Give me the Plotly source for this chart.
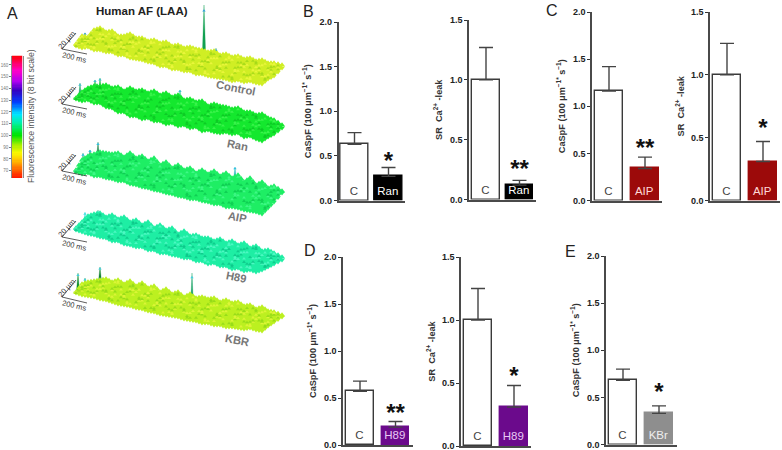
import plotly.graph_objects as go

W, H = 782, 450

# ---------- bar data ----------
panel_names = ["B1", "B2", "C1", "C2", "D1", "D2", "E"]
treatments = ["Ran", "Ran", "AIP", "AIP", "H89", "H89", "KBr"]
control_means = [0.63, 1.00, 1.16, 1.00, 0.57, 1.00, 0.68]
control_tops = [0.76, 1.27, 1.42, 1.25, 0.68, 1.25, 0.80]
treated_means = [0.27, 0.12, 0.34, 0.31, 0.19, 0.31, 0.33]
treated_tops = [0.37, 0.16, 0.46, 0.47, 0.25, 0.48, 0.41]
stars = ["*", "**", "**", "*", "**", "*", "*"]
star_values = [0.42, 0.24, 0.54, 0.56, 0.32, 0.54, 0.54]
y_tops = [2.0, 1.5, 2.0, 1.5, 2.0, 1.5, 2.0]
y_ticks_2 = [0.0, 0.5, 1.0, 1.5, 2.0]
y_ticks_15 = [0.0, 0.5, 1.0, 1.5]
titles = ["CaSpF (100 µm<sup>−1*</sup> s<sup>−1</sup>)", "SR  Ca<sup>2+</sup> -leak"]

# ---------- styles ----------
bar_fill = ["#000000", "#000000", "#9c0a0a", "#9c0a0a", "#6b0a8c", "#6b0a8c", "#8e8e8e"]
bar_text = ["#ffffff", "#ffffff", "#ffd8d8", "#ffd8d8", "#e8c8f5", "#e8c8f5", "#eeeeee"]

# layout in page pixels: axis x, right end, top, bottom, centre of bar 1, centre of bar 2
geometry = [
    (338.5, 405, 22, 200.5, 354.5, 388.5),
    (469.0, 536, 20, 199.5, 486.0, 519.5),
    (592.0, 662, 12, 200.5, 609.0, 645.0),
    (710.0, 780, 12, 200.5, 727.0, 763.0),
    (343.0, 413, 257, 445.0, 360.0, 395.5),
    (461.0, 531, 257, 446.0, 478.0, 514.0),
    (606.0, 677, 256, 444.5, 623.0, 659.0),
]
bar_px = 27.5
title_standoff = [6, 6, 6, 5, 6, 5, 6]

# ---------- surface ribbon outlines ----------
ridge_x = [76, 82, 88, 94, 100, 106, 112, 118, 124, 130, 136, 142, 148, 154, 160, 166, 172, 178,
           184, 190, 196, 202, 208, 214, 220, 226, 232, 238, 244, 250, 256, 262, 268, 274, 282]
control_top = [44, 36, 37, 30, 28, 32, 31, 36, 36, 34, 38, 38, 41, 40, 43, 42, 46, 45,
               48, 47, 49, 50, 52, 51, 55, 54, 57, 56, 59, 58, 61, 60, 63, 63, 65]
control_bottom = [46, 48, 47, 50, 50, 52, 52, 55, 55, 58, 59, 60, 62, 63, 66, 66, 69, 69,
                  71, 71, 74, 74, 76, 77, 78, 79, 81, 80, 82, 81, 83, 84, 79, 76, 68]
ran_top = [98, 92, 88, 86, 86, 85, 88, 87, 91, 88, 91, 90, 93, 91, 95, 93, 97, 95,
           100, 99, 102, 101, 106, 104, 106, 107, 109, 108, 112, 112, 115, 114, 118, 120, 125]
ran_bottom = [99, 101, 100, 103, 103, 107, 108, 112, 112, 116, 116, 119, 118, 121, 121, 124, 123, 126,
              125, 128, 127, 131, 130, 132, 133, 132, 134, 133, 137, 136, 139, 141, 137, 134, 128]
aip_top = [170, 160, 156, 154, 152, 153, 154, 153, 157, 153, 158, 156, 161, 158, 165, 162, 168, 165,
           170, 168, 173, 170, 174, 171, 176, 173, 178, 175, 182, 178, 185, 182, 188, 186, 191]
aip_bottom = [172, 174, 173, 176, 176, 178, 179, 181, 181, 184, 185, 187, 188, 190, 191, 193, 194, 196,
              197, 199, 199, 201, 202, 204, 204, 207, 207, 208, 210, 211, 212, 214, 208, 202, 193]
h89_top = [228, 222, 216, 214, 213, 217, 215, 219, 217, 222, 220, 225, 222, 228, 225, 230, 228, 234,
           231, 236, 235, 238, 238, 241, 239, 243, 241, 245, 243, 248, 246, 251, 250, 253, 257]
h89_bottom = [230, 232, 234, 235, 237, 238, 241, 241, 244, 245, 247, 247, 250, 250, 253, 253, 255, 256,
              258, 258, 261, 261, 264, 263, 266, 266, 269, 268, 271, 270, 272, 270, 267, 264, 260]
kbr_top = [292, 284, 282, 281, 280, 279, 282, 280, 284, 281, 286, 283, 288, 286, 292, 289, 294, 292,
           297, 294, 298, 297, 299, 298, 302, 300, 303, 302, 306, 305, 309, 307, 311, 312, 315]
kbr_bottom = [293, 295, 296, 297, 299, 300, 302, 304, 305, 306, 308, 309, 311, 312, 314, 315, 316, 317,
              319, 320, 321, 323, 323, 325, 325, 327, 327, 328, 329, 328, 330, 331, 326, 322, 317]
ribbon_names = ["Control", "Ran", "AIP", "H89", "KBR"]
ribbon_tops = [control_top, ran_top, aip_top, h89_top, kbr_top]
ribbon_bottoms = [control_bottom, ran_bottom, aip_bottom, h89_bottom, kbr_bottom]
ribbon_fill = ["#d0ee24", "#14e82e", "#1eee64", "#1eeea4", "#bcf020"]
ribbon_dark = ["#a0d818", "#0cc424", "#0cc850", "#0cc488", "#90d818"]
ribbon_light = ["#eef840", "#40f650", "#44fa8c", "#54fac8", "#e2f63c"]
# where along the ribbon depth each surface peak falls, cycled over the samples
grain_depth = [0.12, 0.62, 0.34, 0.86, 0.48, 0.22, 0.74, 0.06, 0.56, 0.92, 0.28, 0.68, 0.42]

# spikes per ribbon: x, base y, tip y, colour
spike_x = [[85, 143, 204, 216], [80, 95, 100, 180, 216], [83, 90, 98, 235], [85, 98, 127, 186, 233], [78, 85, 100, 192]]
spike_base = [[42, 53, 52, 68], [100, 90, 92, 100, 117], [170, 160, 160, 180], [228, 228, 234, 240, 258], [292, 293, 282, 310]]
spike_tip = [[33, 40, 5, 48], [83, 80, 78, 90, 106], [153, 150, 142, 167], [212, 210, 222, 232, 245], [273, 278, 267, 273]]
spike_color = [["#30a030", "#30a030", "#10a050", "#20a040"],
               ["#10a060", "#10c040", "#10b040", "#30d090", "#30d0a0"],
               ["#10a860", "#109050", "#108040", "#30c0c0"],
               ["#30d8d8", "#10a860", "#30d8e0", "#30d8e0", "#30d8e0"],
               ["#109030", "#109030", "#108030", "#10a060"]]
spike_tipcolor = ["#30a0e0", "#40c0d0", "#30c0e0", "#40e0e0", "#40d0e0"]

# scale bars: vertex, top of the 20 µm bar, end of the 200 ms bar
scale_vertex_y = [49, 104, 171, 237, 297]
scale_top_y = [33, 87, 155, 221, 280]
scale_end_y = [54, 109, 176, 242, 303]
ribbon_label_xy = [(236, 88), (237, 145), (237, 217), (236, 277), (237, 340)]
ribbon_label_angle = [11, 11, 11, 11, 11]

# colour bar
cbar_values = list(range(64, 169, 1))
cbar_ticks = [70, 80, 90, 100, 110, 120, 130, 140, 150, 160]
cbar_stops = [(64, "#ff1a00"), (72, "#ff7400"), (80, "#ffcf00"), (85, "#f8f800"), (92, "#a0ee00"),
              (100, "#00e400"), (110, "#00f0a0"), (118, "#00e5ff"), (128, "#0040ff"), (138, "#3400c0"),
              (146, "#b000f0"), (155, "#ff00c8"), (162, "#ff0060"), (168, "#ff0000")]
page_letters = [("A", 12, 13), ("B", 308, 11), ("C", 552, 10), ("D", 310, 250), ("E", 570, 251)]

FONT = "Liberation Sans"
fig = go.Figure()
layout = dict(
    width=W, height=H, margin=dict(l=0, r=0, t=0, b=0, autoexpand=False), autosize=False,
    paper_bgcolor="white", plot_bgcolor="rgba(0,0,0,0)", showlegend=False,
    font=dict(family=FONT), bargap=0,
)

# page-wide pixel axes for panel A
layout["xaxis8"] = dict(domain=[0, 1], range=[0, W], visible=False, fixedrange=True, anchor="y8")
layout["yaxis8"] = dict(domain=[0, 1], range=[H, 0], visible=False, fixedrange=True, anchor="x8")


def add8(**kw):
    fig.add_trace(go.Scatter(xaxis="x8", yaxis="y8", hoverinfo="skip", **kw))


annotations = []
for i, name in enumerate(ribbon_names):
    top, bottom = ribbon_tops[i], ribbon_bottoms[i]
    for sx, sb, st, sc in zip(spike_x[i], spike_base[i], spike_tip[i], spike_color[i]):
        add8(x=[sx - 1.6, sx, sx + 1.6], y=[sb, st, sb], mode="lines", fill="toself", fillcolor=sc,
             line=dict(color=sc, width=0.3))
        add8(x=[sx], y=[st + (sb - st) * 0.12], mode="markers",
             marker=dict(symbol="triangle-up", size=3, color=spike_tipcolor[i], line=dict(width=0)))
    add8(x=ridge_x + ridge_x[::-1], y=top + bottom[::-1], mode="lines", fill="toself",
         fillcolor=ribbon_fill[i], line=dict(color=ribbon_fill[i], width=0.6), name=name)
    mid_x = [(ridge_x[k] + ridge_x[k + 1]) / 2 for k in range(len(ridge_x) - 1)]
    mid_top = [(top[k] + top[k + 1]) / 2 for k in range(len(ridge_x) - 1)]
    mid_bot = [(bottom[k] + bottom[k + 1]) / 2 for k in range(len(ridge_x) - 1)]
    add8(x=ridge_x + mid_x, y=top + mid_top, mode="markers",
         marker=dict(symbol="triangle-up", size=5.5, color=ribbon_fill[i], line=dict(width=0)))
    add8(x=ridge_x + mid_x, y=bottom + mid_bot, mode="markers",
         marker=dict(symbol="triangle-down", size=5, color=ribbon_fill[i], line=dict(width=0)))
    all_x = ridge_x[:-1] + mid_x
    all_t = top[:-1] + mid_top
    all_b = bottom[:-1] + mid_bot
    for offset, colour, op in [(0, ribbon_light[i], 0.85), (3, ribbon_dark[i], 0.8),
                               (6, ribbon_light[i], 0.85), (9, ribbon_dark[i], 0.8)]:
        depth = [grain_depth[(k + offset) % len(grain_depth)] for k in range(len(all_x))]
        add8(x=all_x, y=[t + d * (b - t) for t, b, d in zip(all_t, all_b, depth)], mode="markers", opacity=op,
             marker=dict(symbol="triangle-up", size=3.4, color=colour, line=dict(width=0)))
    # scale bars
    add8(x=[76, 62, 87], y=[scale_top_y[i], scale_vertex_y[i], scale_end_y[i]], mode="lines",
         line=dict(color="#333333", width=0.8))
    annotations.append(dict(text="20 µm", x=66, y=scale_vertex_y[i] - 9, xref="x8", yref="y8", showarrow=False,
                            textangle=-48, font=dict(size=7.5, color="#333333", family=FONT)))
    annotations.append(dict(text="200 ms", x=74, y=scale_vertex_y[i] + 8, xref="x8", yref="y8", showarrow=False,
                            textangle=13, font=dict(size=7.5, color="#333333", family=FONT)))
    annotations.append(dict(text=f"<b>{name}</b>", x=ribbon_label_xy[i][0], y=ribbon_label_xy[i][1],
                            xref="x8", yref="y8", showarrow=False, textangle=ribbon_label_angle[i],
                            font=dict(size=11.2, color="#777777", family=FONT)))

for txt, x, y in page_letters:
    annotations.append(dict(text=txt, x=x, y=y, xref="x8", yref="y8", showarrow=False,
                            font=dict(size=16, color="#222222", family=FONT)))
annotations.append(dict(text="<b>Human AF (LAA)</b>", x=142, y=11, xref="x8", yref="y8", showarrow=False,
                        font=dict(size=11.5, color="#222222", family=FONT)))
annotations.append(dict(text="Fluorescence intensity (8 bit scale)", x=31, y=116, xref="x8", yref="y8",
                        showarrow=False, textangle=-90, font=dict(size=8.7, color="#555555", family=FONT)))

# colour bar
span = cbar_stops[-1][0] - cbar_stops[0][0]
fig.add_trace(go.Heatmap(z=[[v] for v in cbar_values], y=cbar_values, x=[0], showscale=False,
                         colorscale=[[(v - cbar_stops[0][0]) / span, c] for v, c in cbar_stops],
                         zmin=cbar_stops[0][0], zmax=cbar_stops[-1][0], xaxis="x9", yaxis="y9", hoverinfo="skip"))
layout["xaxis9"] = dict(domain=[11.5 / W, 22.5 / W], visible=False, fixedrange=True, anchor="y9")
layout["yaxis9"] = dict(domain=[1 - 178 / H, 1 - 55.7 / H], range=[63.8, 167.9], anchor="x9", fixedrange=True,
                        tickvals=cbar_ticks, ticks="outside", ticklen=1.5, tickwidth=0.5, tickcolor="#777777",
                        tickfont=dict(size=4.5, color="#777777", family=FONT), showgrid=False, zeroline=False,
                        showline=True, linecolor="#888888", linewidth=0.5, mirror=True)

# bar panels
for i, name in enumerate(panel_names):
    ax, end, top, bot, c1, c2 = geometry[i]
    n = i + 1
    xa, ya = ("x" if n == 1 else f"x{n}"), ("y" if n == 1 else f"y{n}")
    pitch = c2 - c1
    x_pos = [0, 1]
    fig.add_trace(go.Bar(
        x=x_pos, y=[control_means[i], treated_means[i]], width=bar_px / pitch,
        marker=dict(color=["#ffffff", bar_fill[i]], line=dict(color=["#3a3a3a", bar_fill[i]], width=1.4)),
        error_y=dict(type="data", symmetric=False,
                     array=[control_tops[i] - control_means[i], treated_tops[i] - treated_means[i]],
                     arrayminus=[0, 0], color="#444444", thickness=1.4, width=7),
        text=["C", treatments[i]], textposition="inside", insidetextanchor="start", textangle=0,
        constraintext="none", insidetextfont=dict(size=11.5, color=["#444444", bar_text[i]], family=FONT),
        xaxis=xa, yaxis=ya, name=name, hoverinfo="skip"))
    fig.add_trace(go.Scatter(x=[1], y=[star_values[i]], mode="text", text=[stars[i]],
                             textposition="middle center",
                             textfont=dict(size=24, color="#111111", family=FONT, weight=700),
                             xaxis=xa, yaxis=ya, hoverinfo="skip", cliponaxis=False))
    layout[f"xaxis{n if n > 1 else ''}"] = dict(
        domain=[ax / W, end / W], range=[(ax - c1) / pitch, (end - c1) / pitch], anchor=ya,
        showticklabels=False, ticks="", showgrid=False, zeroline=False, fixedrange=True,
        showline=True, linecolor="#4a4a4a", linewidth=1.6)
    layout[f"yaxis{n if n > 1 else ''}"] = dict(
        domain=[1 - bot / H, 1 - top / H], range=[0, y_tops[i]], anchor=xa,
        tickvals=y_ticks_2 if y_tops[i] == 2.0 else y_ticks_15, tickformat=".1f",
        ticks="outside", ticklen=3, tickwidth=1.2, tickcolor="#333333",
        ticklabeloverflow="allow",
        tickfont=dict(size=9, color="#222222", family=FONT, weight=700),
        title=dict(text=titles[0] if y_tops[i] == 2.0 else titles[1], standoff=title_standoff[i],
                   font=dict(size=9.2, color="#333333", family=FONT, weight=700)),
        showgrid=False, zeroline=False, fixedrange=True, showline=True, linecolor="#4a4a4a", linewidth=1.6)

layout["annotations"] = annotations
fig.update_layout(**layout)
fig.write_html("out.html", config={"displayModeBar": False},
               post_script="document.body.style.margin='0';document.body.style.overflow='hidden';")
